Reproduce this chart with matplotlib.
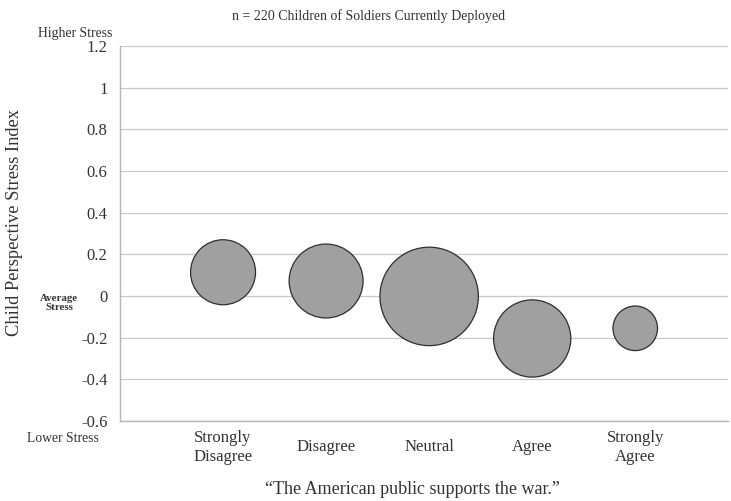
import matplotlib
matplotlib.use("Agg")
import matplotlib.pyplot as plt

categories = ["Strongly\nDisagree", "Disagree", "Neutral", "Agree", "Strongly\nAgree"]
stress_index = [0.114, 0.072, -0.002, -0.204, -0.155]
counts = [34, 44, 78, 48, 16]
y_ticks = [1.2, 1.0, 0.8, 0.6, 0.4, 0.2, 0.0, -0.2, -0.4, -0.6]
y_tick_labels = ["1.2", "1", "0.8", "0.6", "0.4", "0.2", "0", "-0.2", "-0.4", "-0.6"]

plt.rcParams['font.family'] = ['Liberation Serif', 'DejaVu Serif']
txt = "#333333"

fig = plt.figure(figsize=(7.31, 5.01), dpi=100)
ax = fig.add_axes([120/731, 80/501, (728-120)/731, (421-46)/501])

xs = list(range(1, len(categories) + 1))
ax.scatter(xs, stress_index, s=[64.4 * c for c in counts], color="#a0a0a0",
           edgecolors="#2e2e2e", linewidths=0.9, zorder=3)

ax.set_xlim(0, 5.9)
ax.set_ylim(-0.6, 1.2)
ax.set_yticks(y_ticks)
ax.set_yticklabels(y_tick_labels)
ax.grid(axis='y', color="#c8c8c8", linewidth=0.9, zorder=0)
ax.set_axisbelow(True)
for s in ["top", "right"]:
    ax.spines[s].set_visible(False)
for s in ["left", "bottom"]:
    ax.spines[s].set_color("#b5b5b5")
    ax.spines[s].set_linewidth(1.0)
ax.tick_params(axis='y', length=0, pad=9, labelsize=12, labelcolor=txt)
ax.set_xticks(xs)
ax.set_xticklabels(categories)
ax.tick_params(axis='x', length=0, pad=19, labelsize=12, labelcolor=txt)
for lab in ax.get_xticklabels():
    lab.set_va('center')
    lab.set_multialignment('center')

fig.text(15/731, 1 - 223/501, "Child Perspective Stress Index", rotation=90,
         ha='center', va='center', fontsize=13.3, color=txt)
fig.text(112/731, 1 - 33/501, "Higher Stress", ha='right', va='center', fontsize=9.8, color=txt)
fig.text(99/731, 1 - 438/501, "Lower Stress", ha='right', va='center', fontsize=9.8, color=txt)
fig.text(59/731, 1 - 303/501, "Average\nStress", ha='center', va='center', fontsize=7.8,
         color=txt, fontweight='bold', linespacing=1.1)
fig.text(369/731, 1 - 16/501, "n = 220 Children of Soldiers Currently Deployed",
         ha='center', va='center', fontsize=10, color=txt)
fig.text(412/731, 1 - 490/501, "\u201cThe American public supports the war.\u201d",
         ha='center', va='center', fontsize=13, color=txt)

fig.savefig("out.png", dpi=100, facecolor="white")
